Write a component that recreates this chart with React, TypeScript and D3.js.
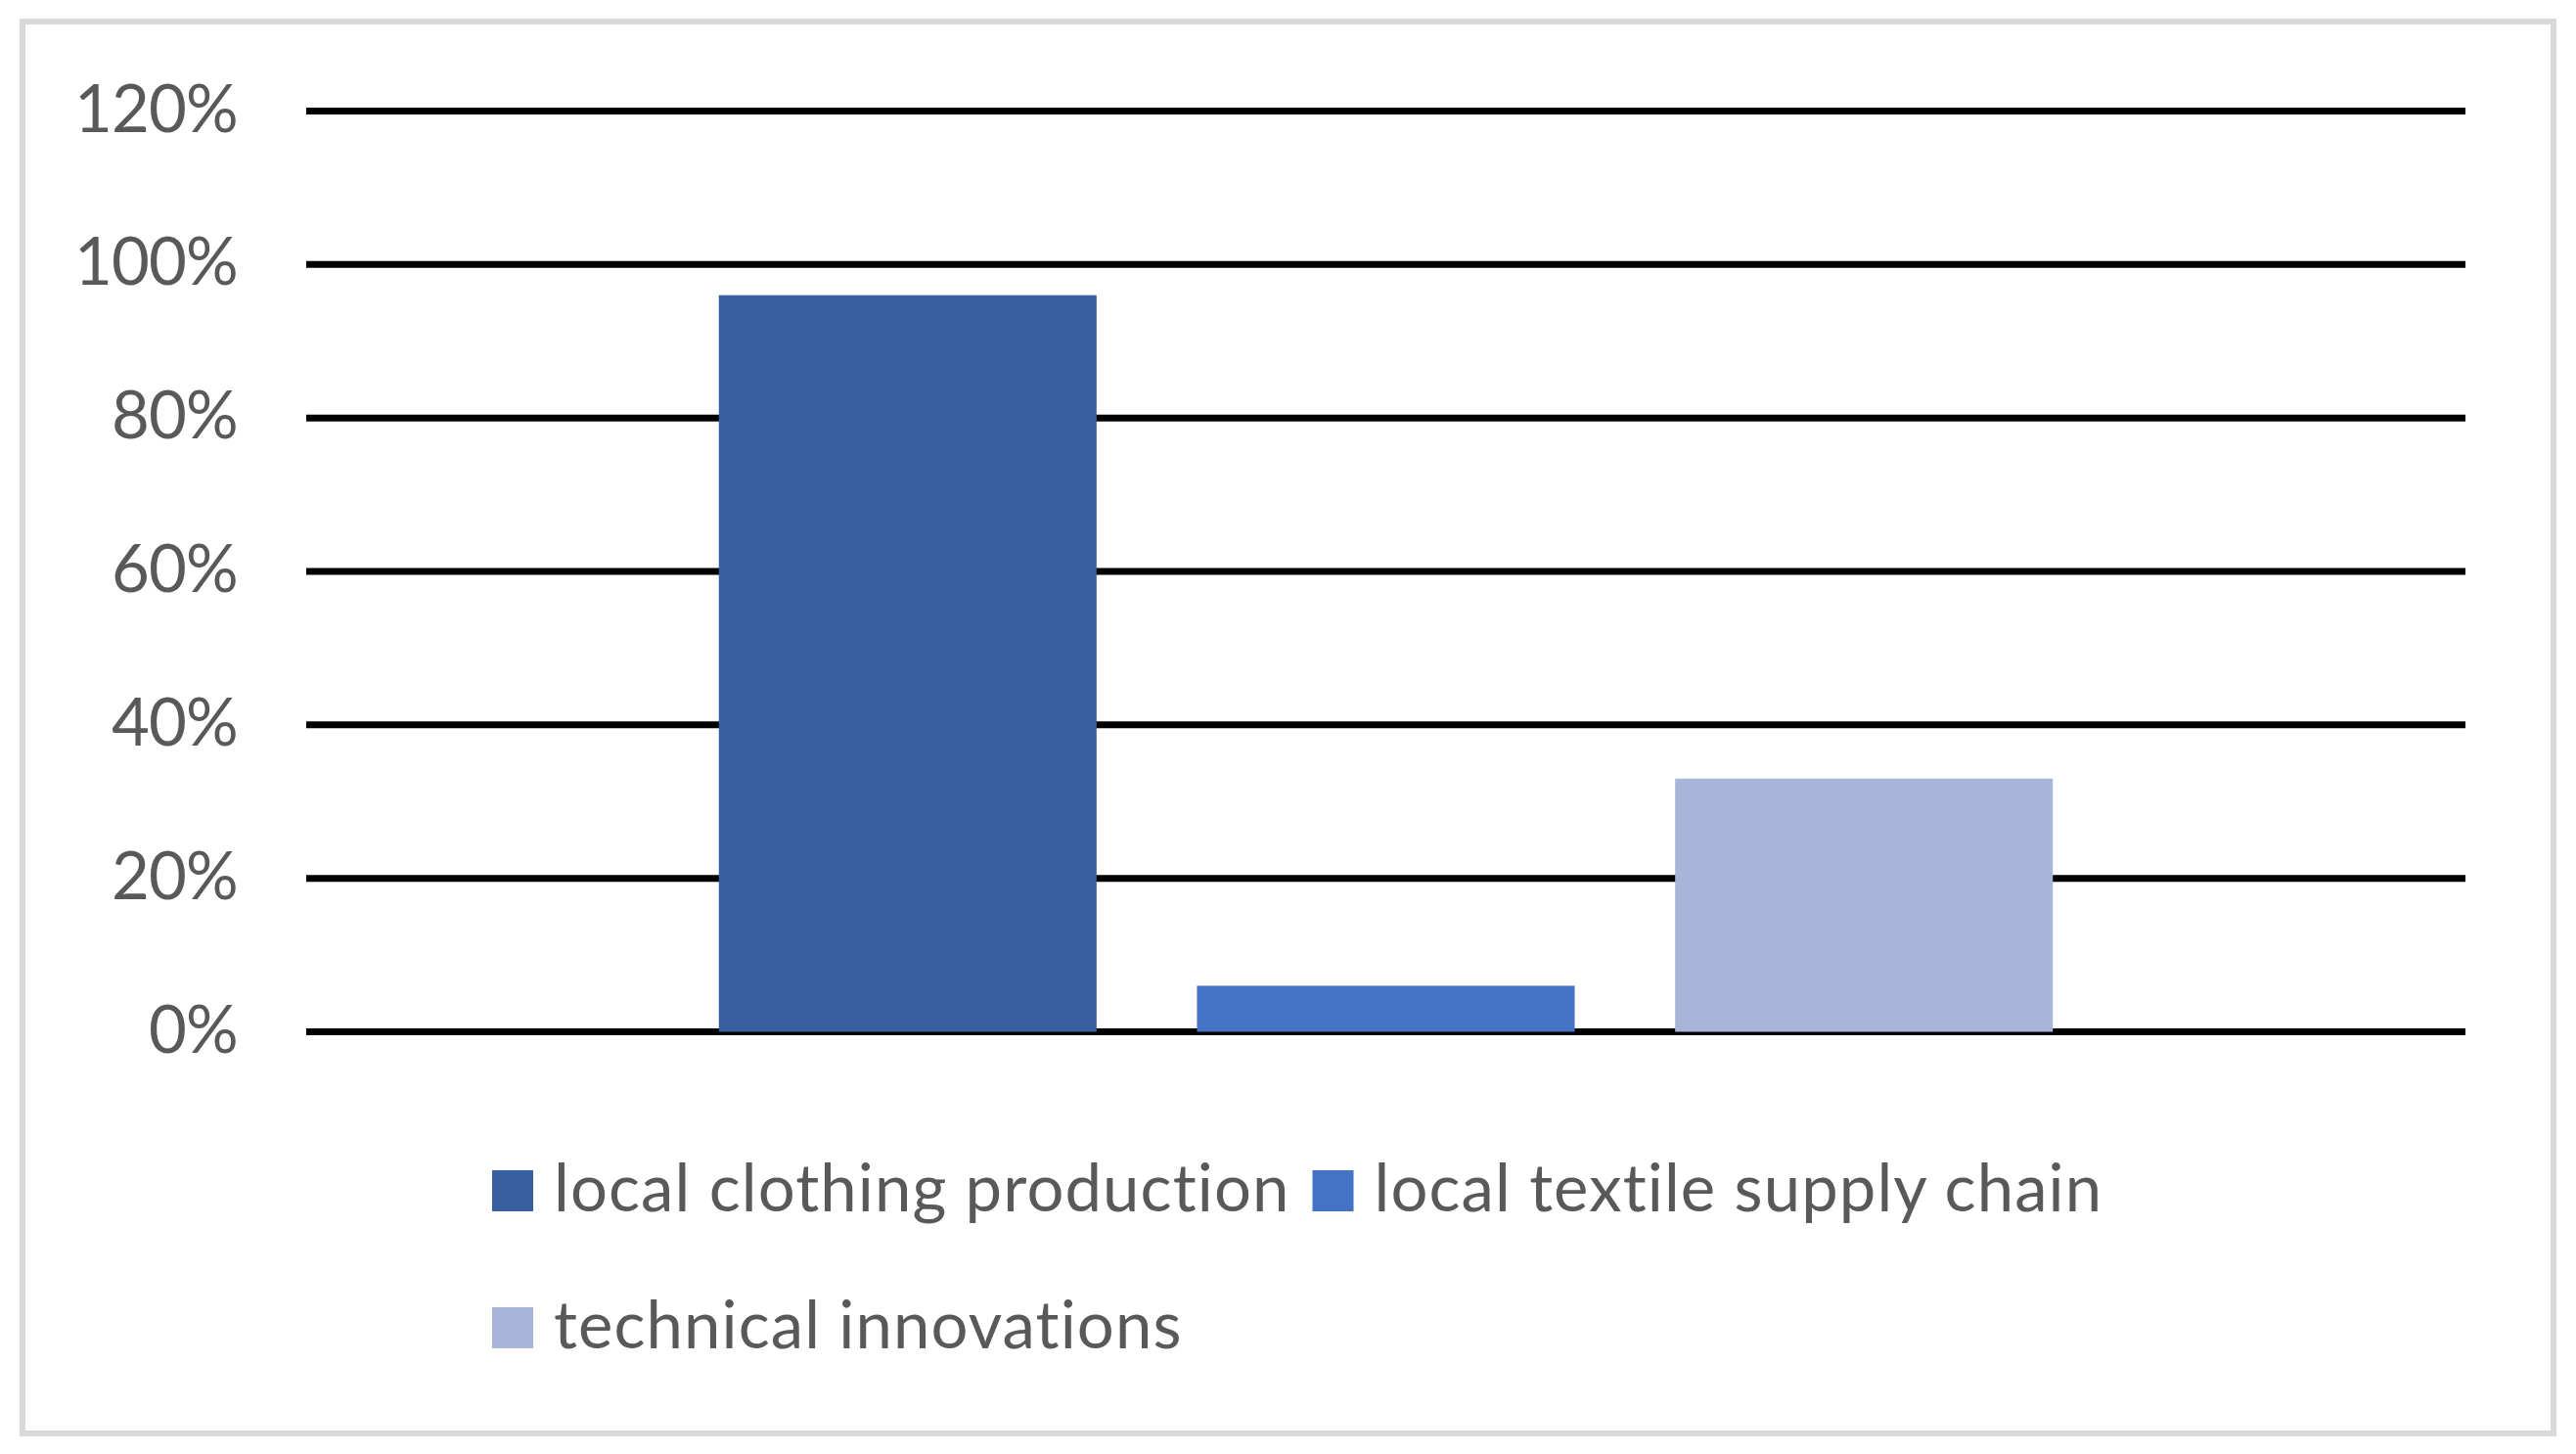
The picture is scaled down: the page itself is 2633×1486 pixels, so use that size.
import React, { useEffect, useRef } from "react";
import * as d3 from "d3";

const seriesNames = [
  "local clothing production",
  "local textile supply chain",
  "technical innovations",
];
const seriesValues = [0.96, 0.06, 0.33];
const seriesColors = ["#375fa1", "#4472c4", "#a7b5d9"];
const tickValues = [0, 0.2, 0.4, 0.6, 0.8, 1.0, 1.2];
const tickLabels = ["0%", "20%", "40%", "60%", "80%", "100%", "120%"];
const legendRows = [[0, 1], [2]];

function BarChart() {
  const ref = useRef<SVGSVGElement | null>(null);

  useEffect(() => {
    drawChart();
  });

  const drawChart = () => {
    const svg = d3.select(ref.current);
    svg.selectAll("*").remove();

    const font = "Lato, 'Open Sans', sans-serif";
    const textColor = "#595959";

    // outer frame
    svg
      .append("rect")
      .attr("x", 23)
      .attr("y", 22)
      .attr("width", 2587)
      .attr("height", 1443)
      .attr("fill", "#ffffff")
      .attr("stroke", "#d9d9d9")
      .attr("stroke-width", 6);

    const plot = { left: 313, right: 2520, top: 113.5, bottom: 1054.5 };

    const y = d3
      .scaleLinear()
      .domain([0, 1.2])
      .range([plot.bottom, plot.top]);

    const x = d3
      .scaleBand()
      .domain(seriesNames)
      .range([plot.left, plot.right])
      .paddingInner(0.21)
      .paddingOuter(0.863);

    // gridlines
    svg
      .append("g")
      .selectAll("line")
      .data(tickValues)
      .join("line")
      .attr("x1", plot.left)
      .attr("x2", plot.right)
      .attr("y1", d => y(d))
      .attr("y2", d => y(d))
      .attr("stroke", "#000000")
      .attr("stroke-width", 7);

    // tick labels
    svg
      .append("g")
      .selectAll("text")
      .data(tickValues)
      .join("text")
      .attr("x", 243)
      .attr("y", d => y(d) + 21)
      .attr("text-anchor", "end")
      .attr("font-family", font)
      .attr("font-size", 67)
      .attr("letter-spacing", -0.8)
      .attr("fill", textColor)
      .text((d, i) => tickLabels[i]);

    // bars
    svg
      .append("g")
      .selectAll("rect")
      .data(seriesValues)
      .join("rect")
      .attr("x", (d, i) => x(seriesNames[i]) as number)
      .attr("width", x.bandwidth())
      .attr("y", d => y(d))
      .attr("height", d => y(0) - y(d))
      .attr("fill", (d, i) => seriesColors[i]);

    // legend
    const legend = svg.append("g");
    const sq = 42;
    legendRows.forEach((row, r) => {
      let cx = 503;
      const base = 1238 + r * 140;
      row.forEach(i => {
        legend
          .append("rect")
          .attr("x", cx)
          .attr("y", base - sq)
          .attr("width", sq)
          .attr("height", sq)
          .attr("fill", seriesColors[i]);
        const t = legend
          .append("text")
          .attr("x", cx + sq + 21)
          .attr("y", base)
          .attr("font-family", font)
          .attr("font-size", 67)
          .attr("letter-spacing", 1.1)
          .style("font-variant-ligatures", "none")
          .attr("fill", textColor)
          .text(seriesNames[i]);
        const w = (t.node() as SVGTextElement).getComputedTextLength();
        cx = cx + sq + 21 + w + 23;
      });
    });
  };

  return (
    <svg
      ref={ref}
      width={2633}
      height={1486}
      style={{ position: "absolute", left: 0, top: 0, background: "#ffffff" }}
    />
  );
}

export default function App() {
  return <BarChart />;
}
